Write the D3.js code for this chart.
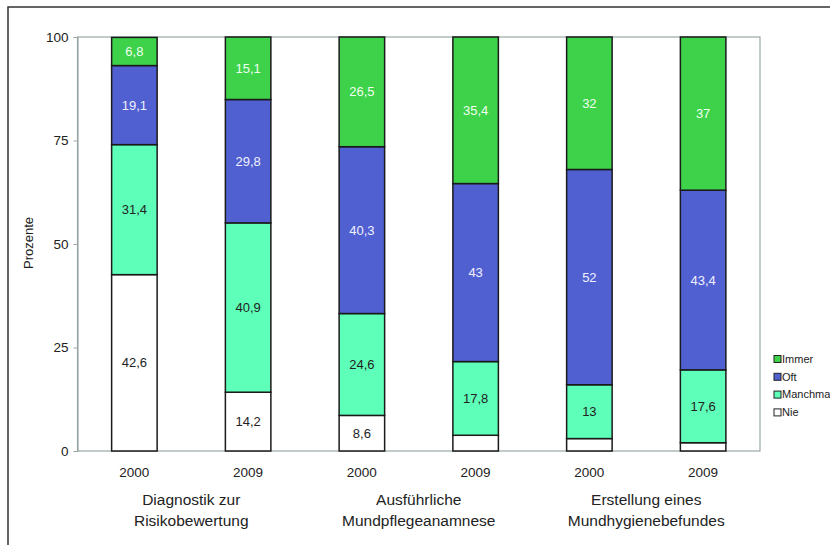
<!DOCTYPE html>
<html><head><meta charset="utf-8">
<script src="https://cdn.jsdelivr.net/npm/d3@7"></script>
<style>body{margin:0;background:#fff}svg{display:block;font-family:"Liberation Sans",Arial,sans-serif}</style>
</head><body><svg id="c" width="830" height="545"></svg>
<script>
const groups = [["Diagnostik zur","Risikobewertung"],["Ausführliche","Mundpflegeanamnese"],["Erstellung eines","Mundhygienebefundes"]];
const years = ["2000","2009"];
const series = ["Nie","Manchmal","Oft","Immer"];
const nie      = [42.6, 14.2, 8.6, 3.8, 3, 2];
const manchmal = [31.4, 40.9, 24.6, 17.8, 13, 17.6];
const oft      = [19.1, 29.8, 40.3, 43, 52, 43.4];
const immer    = [6.8, 15.1, 26.5, 35.4, 32, 37];
const showNieLabel = [true, true, true, false, false, false];
const yTicks = [0, 25, 50, 75, 100];
const colors = {Nie:"#ffffff", Manchmal:"#5effb8", Oft:"#5060d0", Immer:"#3ed24a"};
const labelColors = {Nie:"#222", Manchmal:"#222", Oft:"#f0f0ff", Immer:"#f0fff0"};

const svg = d3.select("#c");
svg.append("path").attr("d","M8,545 V7 H830").attr("fill","none").attr("stroke","#333").attr("stroke-width",1.5);

const L=77.5, R=760, T=37, B=451;
const bars = d3.range(6);
const x = d3.scaleBand().domain(bars).range([L,R]).paddingInner(0.6).paddingOuter(0.3);
const y = d3.scaleLinear().domain([0,100]).range([B,T]);

svg.append("rect").attr("x",L).attr("y",T).attr("width",R-L).attr("height",B-T)
  .attr("fill","none").attr("stroke","#9aa8a8").attr("stroke-width",1.2);

const data = bars.map(i=>({i, Nie:nie[i], Manchmal:manchmal[i], Oft:oft[i], Immer:immer[i]}));
const stacked = d3.stack().keys(series)(data);

const g = svg.append("g");
stacked.forEach(layer=>{
  const key = layer.key;
  layer.forEach((d,j)=>{
    g.append("rect").attr("x",x(j)).attr("width",x.bandwidth())
      .attr("y",y(d[1])).attr("height",y(d[0])-y(d[1]))
      .attr("fill",colors[key]).attr("stroke","#1a1a1a").attr("stroke-width",1.5);
    const v = d.data[key];
    if (key!=="Nie" || showNieLabel[j]) {
      g.append("text").attr("x",x(j)+x.bandwidth()/2).attr("y",(y(d[0])+y(d[1]))/2)
        .attr("dy","0.35em").attr("text-anchor","middle").attr("font-size",13)
        .attr("fill",labelColors[key]).text(String(v).replace(".",","));
    }
  });
});

const yAxis = d3.axisLeft(y).tickValues(yTicks).tickSize(4).tickPadding(5);
const ya = svg.append("g").attr("transform",`translate(${L},0)`).call(yAxis);
ya.select(".domain").attr("stroke","#9aa8a8").attr("stroke-width",1.2);
ya.selectAll(".tick line").attr("stroke","#9aa8a8");
ya.selectAll("text").attr("font-size",13.5).attr("fill","#222").attr("font-family","Liberation Sans, Arial, sans-serif");

svg.append("text").attr("transform","translate(33,243) rotate(-90)").attr("text-anchor","middle")
  .attr("font-size",13).attr("fill","#222").text("Prozente");

bars.forEach(j=>{
  svg.append("text").attr("x",x(j)+x.bandwidth()/2).attr("y",477).attr("text-anchor","middle")
    .attr("font-size",13.5).attr("fill","#222").text(years[j%2]);
});
groups.forEach((gr,k)=>{
  const cx = (x(2*k)+x(2*k+1)+x.bandwidth())/2;
  gr.forEach((line,m)=>{
    svg.append("text").attr("x",cx).attr("y",505+m*21).attr("text-anchor","middle")
      .attr("font-size",15.5).attr("fill","#222").text(line);
  });
});

const legendItems = series.slice().reverse();
legendItems.forEach((s,k)=>{
  const ly = 359 + k*17.8;
  svg.append("rect").attr("x",774).attr("y",ly-3.5).attr("width",7).attr("height",7)
    .attr("fill",colors[s]).attr("stroke","#222").attr("stroke-width",1);
  svg.append("text").attr("x",782).attr("y",ly).attr("dy","0.35em").attr("font-size",11)
    .attr("fill","#222").text(s);
});
</script></body></html>
